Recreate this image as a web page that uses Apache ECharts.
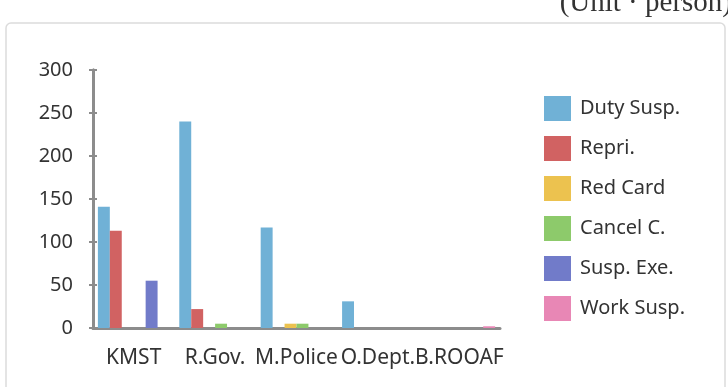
<!DOCTYPE html>
<html>
<head>
<meta charset="utf-8">
<script src="https://cdn.jsdelivr.net/npm/echarts@6/dist/echarts.min.js"></script>
<style>
  html, body { margin: 0; padding: 0; background: #fff; }
  #chart { width: 728px; height: 387px; }
</style>
</head>
<body>
<div id="chart"></div>
<script>
// 기관별 징계 현황 (단위: 명)
const categories = ['KMST', 'R.Gov.', 'M.Police', 'O.Dept.', 'B.ROOAF'];
const seriesNames = ['Duty Susp.', 'Repri.', 'Red Card', 'Cancel C.', 'Susp. Exe.', 'Work Susp.'];
const dutySusp = [141, 240, 117, 31, 0];
const repri = [113, 22, 0, 0, 0];
const redCard = [0, 0, 5, 0, 0];
const cancelC = [0, 5, 5, 0, 0];
const suspExe = [55, 0, 0, 0, 0];
const workSusp = [0, 0, 0, 0, 2];
const yTicks = [0, 50, 100, 150, 200, 250, 300];

const colors = ['#70b1d6', '#d16262', '#ecc24f', '#8dca6b', '#717bc9', '#e887b5'];
const values = [dutySusp, repri, redCard, cancelC, suspExe, workSusp];
const font = '"Noto Sans", sans-serif';

const chart = echarts.init(document.getElementById('chart'), null, { renderer: 'canvas' });

const yBase = {
  type: 'value',
  min: yTicks[0],
  max: yTicks[yTicks.length - 1],
  interval: 50,
  splitLine: { show: false },
  axisLine: { show: true, lineStyle: { color: '#8c8c8c', width: 3 } },
  axisTick: { show: true, length: 4, lineStyle: { color: '#8c8c8c', width: 2 } },
};

chart.setOption({
  animation: false,
  graphic: [
    {
      type: 'rect',
      shape: { x: 6, y: 23, width: 719, height: 375, r: 5 },
      style: { fill: 'none', stroke: '#dcdcdc', lineWidth: 1.5 },
      z: -1,
    },
    {
      // 상단 단위 표기 (위쪽이 잘려 있음)
      type: 'text',
      style: {
        text: '(Unit · person)',
        x: 732,
        y: 18,
        align: 'right',
        verticalAlign: 'bottom',
        font: '29px "Liberation Serif", serif',
        fill: '#333',
      },
    },
  ],
  legend: {
    orient: 'vertical',
    left: 539,
    top: 91,
    itemWidth: 27,
    itemHeight: 25,
    itemGap: 15,
    icon: 'rect',
    textStyle: { fontFamily: font, fontSize: 20, color: '#333', padding: [0, 0, 0, 4] },
    data: seriesNames,
  },
  grid: { left: 93, right: 228, top: 70, bottom: 59 },
  xAxis: {
    type: 'category',
    data: categories,
    axisLine: { lineStyle: { color: '#8c8c8c', width: 3 } },
    axisTick: { show: false },
    axisLabel: { fontFamily: font, fontSize: 21, color: '#333', margin: 20, interval: 0 },
  },
  yAxis: [
    Object.assign({}, yBase, {
      axisLabel: { fontFamily: font, fontSize: 20, color: '#333', margin: 20 },
    }),
    Object.assign({}, yBase, {
      position: 'left',
      axisLabel: { show: false },
      axisTick: { show: true, inside: true, length: 4, lineStyle: { color: '#8c8c8c', width: 2 } },
    }),
  ],
  series: seriesNames.map((name, i) => ({
    name,
    type: 'bar',
    data: values[i],
    barGap: '0%',
    barCategoryGap: '12%',
    itemStyle: { color: colors[i] },
  })),
});

window.addEventListener('resize', () => chart.resize());
</script>
</body>
</html>
